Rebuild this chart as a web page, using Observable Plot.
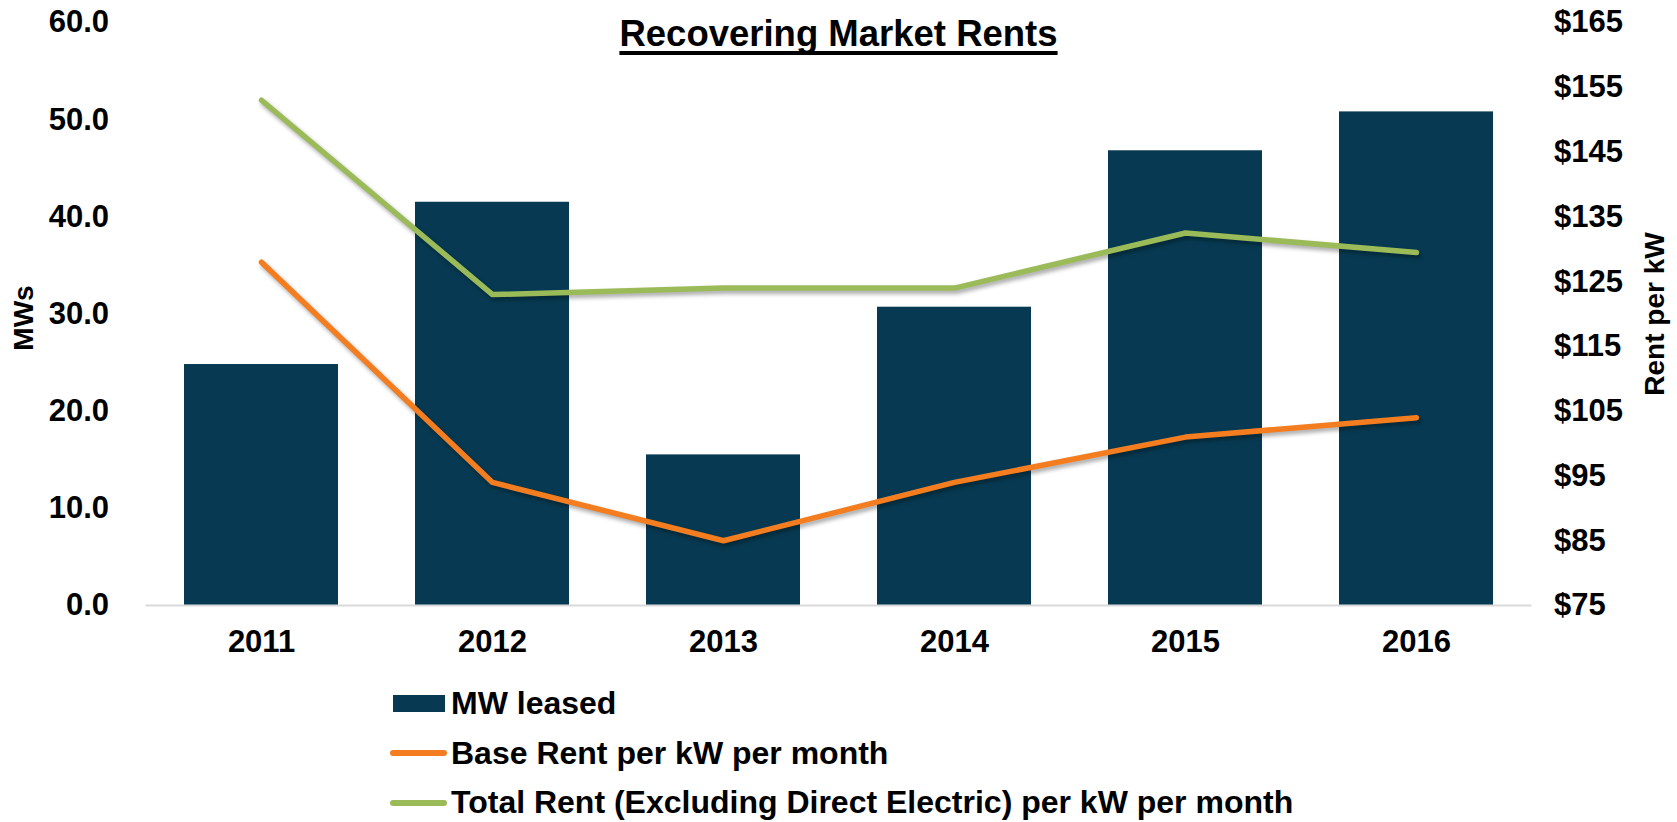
<!DOCTYPE html>
<html>
<head>
<meta charset="utf-8">
<script src="https://cdn.jsdelivr.net/npm/d3@7"></script>
<script src="https://cdn.jsdelivr.net/npm/@observablehq/plot@0.6"></script>
<style>
  body { margin: 0; background: #fff; font-family: "Liberation Sans", Arial, sans-serif; }
  #wrap { position: relative; width: 1677px; height: 822px; overflow: hidden; }
  #chart { position: absolute; left: 0; top: 0; }
  #title { position: absolute; left: 0; top: 16px; width: 1677px; text-align: center; font-weight: bold; font-size: 36.5px; line-height: 36px; text-decoration: underline; text-decoration-thickness: 4px; text-underline-offset: 5px; text-decoration-skip-ink: none; color: #000; }
  #legend { position: absolute; left: 390px; top: 679px; }
  .row { display: flex; align-items: center; height: 49.5px; font-size: 32px; font-weight: bold; color: #000; white-space: nowrap; }
  .sw { width: 61px; height: 20px; position: relative; flex: none; }
  .sw .box { position: absolute; left: 3px; top: 1px; width: 52px; height: 17px; }
  .sw .ln { position: absolute; left: 0; top: 7px; width: 57px; height: 6px; border-radius: 3px; }
  #chart [aria-label="line"] path { filter: drop-shadow(2px 3px 2px rgba(0,0,0,0.35)); }
</style>
</head>
<body>
<div id="wrap">
  <div id="chart"></div>
  <div id="title">Recovering Market Rents</div>
  <div id="legend"></div>
</div>
<script>
const years = ["2011", "2012", "2013", "2014", "2015", "2016"];
const mwLeased = [24.8, 41.5, 15.5, 30.7, 46.8, 50.8];
const baseRent = [128, 94, 85, 94, 101, 104];
const totalRent = [153, 123, 124, 124, 132.5, 129.5];
const mwTicks = [0, 10, 20, 30, 40, 50, 60];
const rentTicks = [75, 85, 95, 105, 115, 125, 135, 145, 155, 165];
const seriesNames = ["MW leased", "Base Rent per kW per month", "Total Rent (Excluding Direct Electric) per kW per month"];
const colors = { bar: "#073a52", base: "#f47d20", total: "#9bbb59" };

// right axis ($75–$165) shares the left axis's pixel range (0–60)
const toLeft = r => (r - 75) * 60 / 90;
const fromLeft = v => v * 90 / 60 + 75;

const rows = years.map((year, i) => ({ year, mw: mwLeased[i], base: baseRent[i], total: totalRent[i] }));

const plot = Plot.plot({
  width: 1677,
  height: 665,
  marginTop: 22,
  marginBottom: 60,
  marginLeft: 145.5,
  marginRight: 145.5,
  style: { fontFamily: "'Liberation Sans', Arial, sans-serif", fontWeight: "bold", fontSize: "31px", color: "#000", background: "transparent", overflow: "visible" },
  x: { type: "band", domain: years, paddingInner: 1 / 3, paddingOuter: 1 / 6 },
  y: { domain: [0, 60] },
  marks: [
    Plot.barY(rows, { x: "year", y: "mw", fill: colors.bar }),
    Plot.ruleY([0], { stroke: "#d9d9d9", strokeWidth: 2 }),
    Plot.lineY(rows, { x: "year", y: d => toLeft(d.base), stroke: colors.base, strokeWidth: 5.5, strokeLinecap: "round", strokeLinejoin: "round" }),
    Plot.lineY(rows, { x: "year", y: d => toLeft(d.total), stroke: colors.total, strokeWidth: 5.5, strokeLinecap: "round", strokeLinejoin: "round" }),
    Plot.axisX({ tickSize: 0, tickPadding: 24, label: null, fontSize: 31 }),
    Plot.axisY(mwTicks, { anchor: "left", tickFormat: d => d.toFixed(1), tickSize: 0, tickPadding: 37, label: null, fontSize: 31 }),
    Plot.axisY(rentTicks.map(toLeft), { anchor: "right", tickFormat: d => "$" + Math.round(fromLeft(d)), tickSize: 0, tickPadding: 22, label: null, fontSize: 31 }),
    Plot.text(["MWs"], { text: d => d, frameAnchor: "left", textAnchor: "middle", dx: -121.5, dy: 4, rotate: -90, fontSize: 28, fontWeight: "bold" }),
    Plot.text(["Rent per kW"], { text: d => d, frameAnchor: "right", textAnchor: "middle", dx: 123.5, dy: 0, rotate: -90, fontSize: 28, fontWeight: "bold" })
  ]
});
document.getElementById("chart").appendChild(plot);

const legend = document.getElementById("legend");
const swatchKinds = ["box", "ln", "ln"];
const swatchColors = [colors.bar, colors.base, colors.total];
seriesNames.forEach((name, i) => {
  const row = document.createElement("div");
  row.className = "row";
  const sw = document.createElement("div");
  sw.className = "sw";
  const mark = document.createElement("div");
  mark.className = swatchKinds[i];
  mark.style.background = swatchColors[i];
  sw.appendChild(mark);
  const label = document.createElement("span");
  label.textContent = name;
  row.appendChild(sw);
  row.appendChild(label);
  legend.appendChild(row);
});
</script>
</body>
</html>
